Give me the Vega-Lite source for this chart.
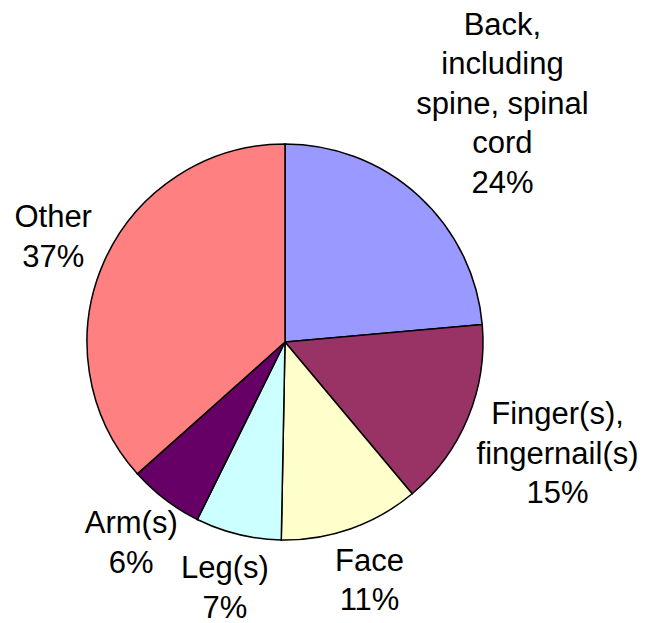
{
  "$schema": "https://vega.github.io/schema/vega-lite/v6.json",
  "width": 570,
  "height": 562,
  "autosize": {"type": "none"},
  "padding": {"left": 0, "top": 61, "right": 89, "bottom": 0},
  "background": "white",
  "config": {"view": {"stroke": null}},
  "data": {
    "values": [
      {"rank": 1, "category": "Back, including spine, spinal cord", "value": 23.6, "label": "Back,\nincluding\nspine, spinal\ncord\n24%"},
      {"rank": 2, "category": "Finger(s), fingernail(s)", "value": 15.3, "label": "Finger(s),\nfingernail(s)\n15%"},
      {"rank": 3, "category": "Face", "value": 11.4, "label": "Face\n11%"},
      {"rank": 4, "category": "Leg(s)", "value": 7.0, "label": "Leg(s)\n7%"},
      {"rank": 5, "category": "Arm(s)", "value": 6.1, "label": "Arm(s)\n6%"},
      {"rank": 6, "category": "Other", "value": 36.6, "label": "Other\n37%"}
    ]
  },
  "transform": [
    {"stack": "value", "groupby": [], "sort": [{"field": "rank", "order": "ascending"}], "as": ["t0", "t1"]},
    {"calculate": "(datum.t0 + datum.t1) / 2", "as": "tmid"},
    {"calculate": "length(split(datum.label, '\\n'))", "as": "lines"}
  ],
  "layer": [
    {
      "mark": {"type": "arc", "radius": 198, "stroke": "black", "strokeWidth": 1.5},
      "encoding": {
        "theta": {"field": "t0", "type": "quantitative", "stack": null, "scale": {"domain": [0, 100]}},
        "theta2": {"field": "t1"},
        "color": {
          "field": "category",
          "type": "nominal",
          "legend": null,
          "scale": {
            "domain": ["Back, including spine, spinal cord", "Finger(s), fingernail(s)", "Face", "Leg(s)", "Arm(s)", "Other"],
            "range": ["#9999FF", "#993366", "#FFFFCC", "#CCFFFF", "#660066", "#FF8080"]
          }
        }
      }
    },
    {
      "mark": {"type": "text", "lineBreak": "\n", "font": "Liberation Sans", "fontSize": 31, "lineHeight": 39.5, "align": "center", "baseline": "middle", "color": "black", "dy": {"expr": "-(datum.lines - 1) * 19.75"}},
      "encoding": {
        "theta": {"field": "tmid", "type": "quantitative", "stack": null, "scale": {"domain": [0, 100]}},
        "text": {"field": "label", "type": "nominal"},
        "radius": {"field": "lines", "type": "quantitative", "scale": {"type": "linear", "domain": [2, 3, 5], "range": [254, 295, 322], "zero": false}}
      }
    }
  ]
}
